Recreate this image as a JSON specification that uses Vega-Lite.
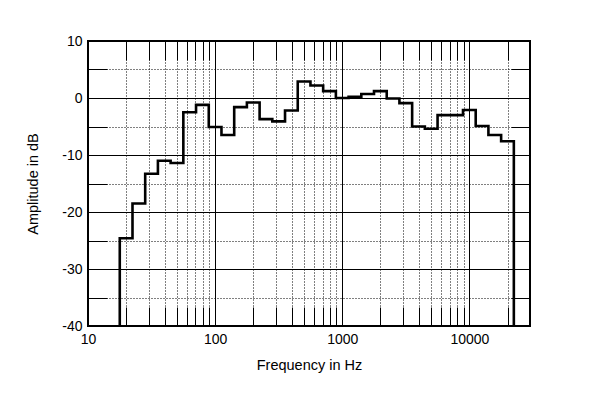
{
  "$schema": "https://vega.github.io/schema/vega-lite/v6.json",
  "width": 442,
  "height": 285,
  "autosize": "none",
  "padding": {"left": 88, "top": 41, "right": 70, "bottom": 73},
  "background": "white",
  "config": {
    "view": {"stroke": "black", "strokeWidth": 2},
    "font": "Liberation Sans",
    "axis": {
      "domain": false,
      "gridColor": "black",
      "gridOpacity": 1,
      "gridWidth": 1,
      "tickColor": "black",
      "tickOpacity": 1,
      "tickWidth": 1,
      "labelColor": "black",
      "labelFont": "Liberation Sans",
      "labelFontSize": 14,
      "titleFont": "Liberation Sans",
      "titleFontSize": 14.5,
      "titleFontWeight": "normal",
      "titleColor": "black"
    }
  },
  "data": {
    "values": [
      {"f": 17.78, "db": -40},
      {"f": 17.78, "db": -24.6},
      {"f": 22.39, "db": -18.5},
      {"f": 28.18, "db": -13.3},
      {"f": 35.48, "db": -11.0},
      {"f": 44.67, "db": -11.4},
      {"f": 56.23, "db": -2.5},
      {"f": 70.79, "db": -1.2},
      {"f": 89.13, "db": -5.1},
      {"f": 112.2, "db": -6.5},
      {"f": 141.3, "db": -1.6},
      {"f": 177.8, "db": -0.8},
      {"f": 223.9, "db": -3.7},
      {"f": 281.8, "db": -4.1},
      {"f": 354.8, "db": -2.2},
      {"f": 446.7, "db": 2.9},
      {"f": 562.3, "db": 2.2},
      {"f": 707.9, "db": 1.2},
      {"f": 891.3, "db": 0.0},
      {"f": 1122, "db": 0.2},
      {"f": 1413, "db": 0.7},
      {"f": 1778, "db": 1.2},
      {"f": 2239, "db": -0.1},
      {"f": 2818, "db": -0.9},
      {"f": 3548, "db": -5.0},
      {"f": 4467, "db": -5.4},
      {"f": 5623, "db": -3.0},
      {"f": 7079, "db": -3.0},
      {"f": 8913, "db": -2.1},
      {"f": 11220, "db": -4.9},
      {"f": 14125, "db": -6.5},
      {"f": 17783, "db": -7.6},
      {"f": 22387, "db": -40}
    ]
  },
  "resolve": {"axis": {"x": "independent", "y": "independent"}},
  "layer": [
    {
      "mark": {"type": "line", "opacity": 0},
      "encoding": {
        "x": {
          "field": "f", "type": "quantitative",
          "scale": {"type": "log", "domain": [10, 30000], "nice": false},
          "axis": {
            "orient": "bottom",
            "values": [20, 30, 40, 50, 60, 70, 80, 90, 200, 300, 400, 500, 600, 700, 800, 900, 2000, 3000, 4000, 5000, 6000, 7000, 8000, 9000, 20000],
            "grid": true, "gridDash": [1, 2],
            "ticks": true, "tickSize": -19,
            "labels": false, "title": null
          }
        },
        "y": {
          "field": "db", "type": "quantitative",
          "scale": {"domain": [-40, 10], "nice": false, "zero": false},
          "axis": {
            "orient": "left",
            "values": [-35, -25, -15, -5, 5],
            "grid": true, "gridDash": [1, 2],
            "ticks": true, "tickSize": -19,
            "labels": false, "title": null
          }
        }
      }
    },
    {
      "mark": {"type": "line", "opacity": 0},
      "encoding": {
        "x": {
          "field": "f", "type": "quantitative",
          "scale": {"type": "log", "domain": [10, 30000], "nice": false},
          "axis": {
            "orient": "top",
            "values": [20, 30, 40, 50, 60, 70, 80, 90, 200, 300, 400, 500, 600, 700, 800, 900, 2000, 3000, 4000, 5000, 6000, 7000, 8000, 9000, 20000],
            "grid": false,
            "ticks": true, "tickSize": -19,
            "labels": false, "title": null
          }
        },
        "y": {
          "field": "db", "type": "quantitative",
          "scale": {"domain": [-40, 10], "nice": false, "zero": false},
          "axis": {
            "orient": "right",
            "values": [-35, -25, -15, -5, 5],
            "grid": false,
            "ticks": true, "tickSize": -19,
            "labels": false, "title": null
          }
        }
      }
    },
    {
      "mark": {"type": "line", "color": "black", "strokeWidth": 2.6, "interpolate": "step-after"},
      "encoding": {
        "x": {
          "field": "f", "type": "quantitative",
          "scale": {"type": "log", "domain": [10, 30000], "nice": false},
          "axis": {
            "orient": "bottom",
            "values": [10, 100, 1000, 10000],
            "labelExpr": "'' + datum.value",
            "grid": true,
            "ticks": false,
            "labelPadding": 6,
            "labelFlush": false,
            "title": "Frequency in Hz",
            "titlePadding": 12
          }
        },
        "y": {
          "field": "db", "type": "quantitative",
          "scale": {"domain": [-40, 10], "nice": false, "zero": false},
          "axis": {
            "orient": "left",
            "values": [-40, -30, -20, -10, 0, 10],
            "labelExpr": "'' + datum.value",
            "grid": true,
            "ticks": false,
            "labelPadding": 6,
            "labelFlush": false,
            "title": "Amplitude in dB",
            "titlePadding": 21
          }
        },
        "order": {"value": null}
      }
    }
  ]
}
